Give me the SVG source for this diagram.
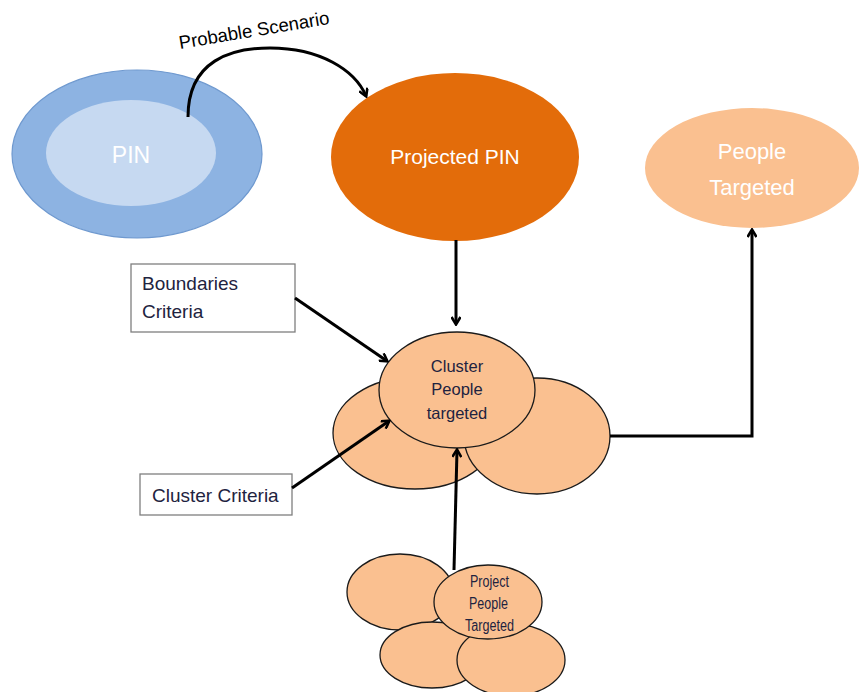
<svg xmlns="http://www.w3.org/2000/svg" width="861" height="692" viewBox="0 0 861 692">
<defs>
<marker id="ah" markerWidth="10" markerHeight="10" refX="8" refY="5" orient="auto" markerUnits="userSpaceOnUse" viewBox="0 0 10 10">
<path d="M1,0.5 L8.5,5 L1,9.5" fill="none" stroke="#000" stroke-width="2.6" stroke-linejoin="miter"/>
</marker>
<style>
.t{font-family:"Liberation Sans",Arial,sans-serif}
.con{fill:none;stroke:#000;stroke-width:3;marker-end:url(#ah)}
.org{fill:#fac090;stroke:#1a1a1a;stroke-width:1.3}
.box{fill:#fff;stroke:#7f7f7f;stroke-width:1.3}
.dk{fill:#1e2340}
.wh{fill:#fff}
</style>
</defs>
<rect width="861" height="692" fill="#fff"/>

<g id="pin">
<ellipse cx="137" cy="154" rx="125" ry="84" fill="#8db3e2" stroke="#6f99cf" stroke-width="1.2"/>
<ellipse cx="131" cy="153" rx="85" ry="53" fill="#c6d9f1"/>
<text class="t wh" x="131" y="163" font-size="23" text-anchor="middle">PIN</text>
</g>

<g id="projected-pin">
<ellipse cx="455" cy="157" rx="124" ry="84" fill="#e36c0a"/>
<text class="t wh" x="455" y="164" font-size="21" text-anchor="middle">Projected PIN</text>
</g>

<g id="people-targeted">
<ellipse cx="752" cy="168" rx="107" ry="60" fill="#fac090"/>
<text class="t wh" x="752" y="159" font-size="22" text-anchor="middle">People</text>
<text class="t wh" x="752" y="195" font-size="22" text-anchor="middle">Targeted</text>
</g>

<g id="boundaries-criteria">
<rect class="box" x="131" y="264" width="164" height="68"/>
<text class="t dk" x="142" y="290" font-size="19">Boundaries</text>
<text class="t dk" x="142" y="318" font-size="19">Criteria</text>
</g>

<g id="cluster-criteria">
<rect class="box" x="140" y="474" width="152" height="41"/>
<text class="t dk" x="152" y="502" font-size="19">Cluster Criteria</text>
</g>

<g id="cluster-people-targeted">
<ellipse class="org" cx="415" cy="433" rx="82" ry="56"/>
<ellipse class="org" cx="537" cy="436" rx="73" ry="58"/>
<ellipse class="org" cx="457" cy="390" rx="78" ry="58"/>
<text class="t dk" x="457" y="372" font-size="16.5" text-anchor="middle">Cluster</text>
<text class="t dk" x="457" y="395" font-size="16.5" text-anchor="middle">People</text>
<text class="t dk" x="457" y="419" font-size="16.5" text-anchor="middle">targeted</text>
</g>

<g id="project-people-targeted">
<ellipse class="org" cx="400" cy="592" rx="53" ry="38"/>
<ellipse class="org" cx="432" cy="655" rx="52" ry="33"/>
<ellipse class="org" cx="511" cy="660" rx="54" ry="36"/>
<ellipse class="org" cx="488" cy="602" rx="54" ry="37"/>
<text class="t dk" x="489.5" y="587" font-size="16" text-anchor="middle" textLength="39" lengthAdjust="spacingAndGlyphs">Project</text>
<text class="t dk" x="488.5" y="609" font-size="16" text-anchor="middle" textLength="39" lengthAdjust="spacingAndGlyphs">People</text>
<text class="t dk" x="489.5" y="631" font-size="16" text-anchor="middle" textLength="49" lengthAdjust="spacingAndGlyphs">Targeted</text>
</g>

<g id="connectors">
<path class="con" d="M188,117 C188,60 232,48 270,48 C320,48 355,70 366,96"/>
<text class="t" x="180" y="49" font-size="18.5" fill="#000" transform="rotate(-9.5 180 49)">Probable Scenario</text>
<path class="con" d="M456,240 L456,324"/>
<path class="con" d="M295,298 L387,361"/>
<path class="con" d="M292,488 L389,421"/>
<path class="con" d="M454,570 L457,450"/>
<path class="con" d="M610,436 L752,436 L752,230"/>
</g>
</svg>
